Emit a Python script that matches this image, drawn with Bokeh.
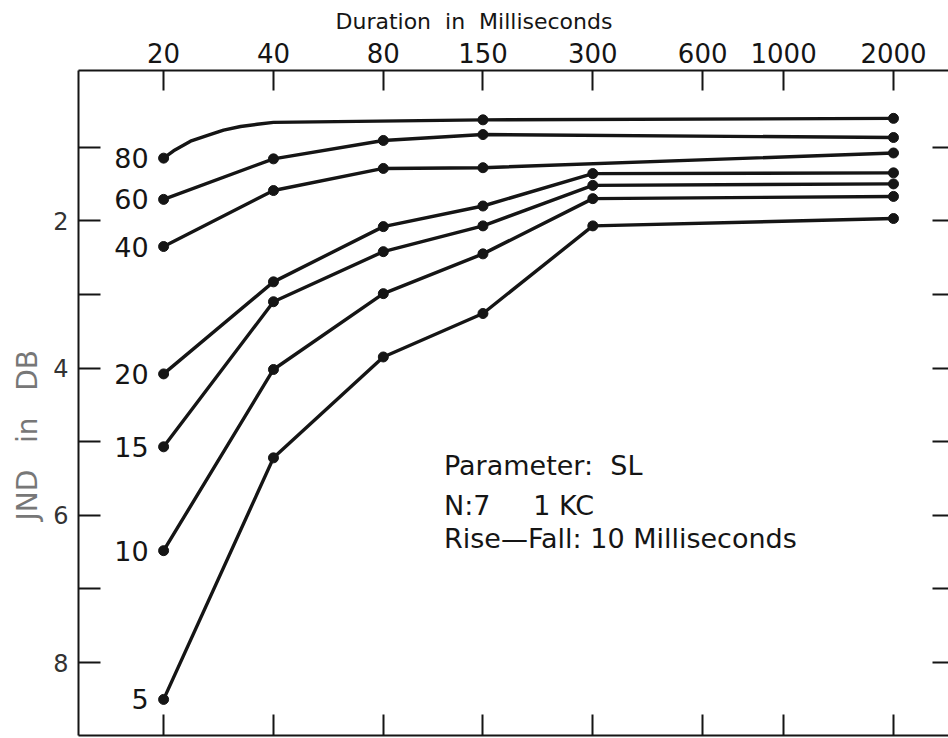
from bokeh.plotting import figure
from bokeh.models import Range1d, LogAxis, LinearAxis, FixedTicker, Label, Title, NumeralTickFormatter
from bokeh.embed import file_html
from bokeh.resources import INLINE
from bokeh.core.properties import value

# ---------------- data ----------------
x_ticks = [20, 40, 80, 150, 300, 600, 1000, 2000]
y_labeled_ticks = [2, 4, 6, 8]
y_unlabeled_ticks = [1, 3, 5, 7]
y_all_ticks = [1, 2, 3, 4, 5, 6, 7, 8]

sl_labels = ["80", "60", "40", "20", "15", "10", "5"]

# SL 80: drawn as a smooth curve between 20 and 40 ms, markers only at 20, 150, 2000
dur_sl80 = [20, 21.3, 23.7, 26.4, 29.2, 32.5, 36.1, 40, 150, 2000]
jnd_sl80 = [1.15, 1.05, 0.92, 0.84, 0.77, 0.72, 0.69, 0.665, 0.63, 0.61]
marked_sl80 = [20, 150, 2000]

dur_sl60 = [20, 40, 80, 150, 2000]
jnd_sl60 = [1.71, 1.16, 0.91, 0.83, 0.87]

dur_sl40 = [20, 40, 80, 150, 2000]
jnd_sl40 = [2.35, 1.59, 1.29, 1.28, 1.08]

dur_low = [20, 40, 80, 150, 300, 2000]
jnd_sl20 = [4.08, 2.83, 2.08, 1.80, 1.36, 1.35]
jnd_sl15 = [5.07, 3.10, 2.42, 2.07, 1.52, 1.50]
jnd_sl10 = [6.48, 4.02, 2.99, 2.45, 1.70, 1.67]
jnd_sl5 = [8.50, 5.22, 3.85, 3.26, 2.07, 1.97]

NB = "\u00a0"
x_title = "Duration" + NB * 2 + "in" + NB * 2 + "Milliseconds"
y_title = "JND" + NB * 3 + "in" + NB * 3 + "DB"
annotation_lines = ["Parameter:" + NB * 2 + "SL",
                    "N:7" + NB * 5 + "1 KC",
                    "Rise\u2014Fall:" + NB + "10 Milliseconds"]

# ---------------- figure ----------------
FONT = "DejaVu Sans"
INK = "#151515"

p = figure(width=948, height=738, output_backend="svg", toolbar_location=None,
           x_axis_type="log", x_axis_location="above",
           x_range=Range1d(11.69, 2830), y_range=Range1d(8.99, -0.04),
           min_border_left=78, min_border_top=70, min_border_bottom=3, min_border_right=0)
p.outline_line_color = None
p.grid.visible = False
p.background_fill_color = "white"

# top axis
top = p.xaxis[0]
top.ticker = FixedTicker(ticks=x_ticks)
top.formatter = NumeralTickFormatter(format="0")
top.major_label_text_font = FONT
top.major_label_text_font_size = "26px"
top.major_label_text_color = INK
top.major_label_standoff = 8
top.major_tick_in = 20
top.major_tick_out = 0
top.major_tick_line_width = 2
top.major_tick_line_color = INK
top.minor_tick_line_color = None
top.axis_line_width = 2
top.axis_line_color = INK

p.add_layout(Title(text=x_title, align="left", offset=257, standoff=12,
                   text_font=FONT, text_font_style="normal", text_font_size="22px",
                   text_color=INK), "above")

# bottom axis (unlabelled ticks)
bottom = LogAxis(ticker=FixedTicker(ticks=[], minor_ticks=x_ticks),
                 minor_tick_in=21, minor_tick_out=0,
                 minor_tick_line_width=2, minor_tick_line_color=INK,
                 major_tick_line_color=None, axis_line_width=2, axis_line_color=INK)
p.add_layout(bottom, "below")

# left axis: labelled ticks at 2,4,6,8, unlabelled between
left = p.yaxis[0]
left.ticker = FixedTicker(ticks=y_labeled_ticks, minor_ticks=y_unlabeled_ticks)
left.major_label_text_font = FONT
left.major_label_text_font_size = "24px"
left.major_label_text_color = "#333333"
left.major_label_standoff = 10
left.major_label_orientation = "horizontal"
left.major_tick_in = 22
left.major_tick_out = 0
left.major_tick_line_width = 2
left.major_tick_line_color = INK
left.minor_tick_in = 22
left.minor_tick_out = 0
left.minor_tick_line_width = 2
left.minor_tick_line_color = INK
left.axis_line_width = 2
left.axis_line_color = INK

p.add_layout(Title(text=y_title, align="left", offset=215, standoff=14,
                   text_font=FONT, text_font_style="normal", text_font_size="28px",
                   text_color="#777777"), "left")

# right axis (unlabelled ticks, no line)
right = LinearAxis(ticker=FixedTicker(ticks=[], minor_ticks=y_all_ticks),
                   minor_tick_in=16, minor_tick_out=0,
                   minor_tick_line_width=2, minor_tick_line_color=INK,
                   major_tick_line_color=None, axis_line_color=None)
p.add_layout(right, "right")

# ---------------- series ----------------
series = [
    (dur_sl80, jnd_sl80),
    (dur_sl60, jnd_sl60),
    (dur_sl40, jnd_sl40),
    (dur_low, jnd_sl20),
    (dur_low, jnd_sl15),
    (dur_low, jnd_sl10),
    (dur_low, jnd_sl5),
]

for i, (xs, ys) in enumerate(series):
    p.line(xs, ys, line_width=3.4, line_color=INK, line_join="round")
    if i == 0:
        mx = [d for d in xs if d in marked_sl80]
        my = [ys[xs.index(d)] for d in mx]
    else:
        mx, my = xs, ys
    p.scatter(mx, my, size=10, fill_color=INK, line_color=INK)

label_x = [s[0][0] for s in series]
label_y = [s[1][0] for s in series]
p.text(x=label_x, y=label_y, text=sl_labels, x_offset=-15,
       text_align="right", text_baseline="middle",
       text_font=value(FONT), text_font_size=value("27px"), text_color=INK)

# ---------------- annotation ----------------
ann_y = [5.33, 5.87, 6.31]
for txt, yy in zip(annotation_lines, ann_y):
    p.add_layout(Label(x=117.3, y=yy, text=txt, text_font=FONT, text_font_size="27px",
                       text_baseline="middle", text_color=INK))

open("out.html", "w").write(file_html(p, INLINE))
